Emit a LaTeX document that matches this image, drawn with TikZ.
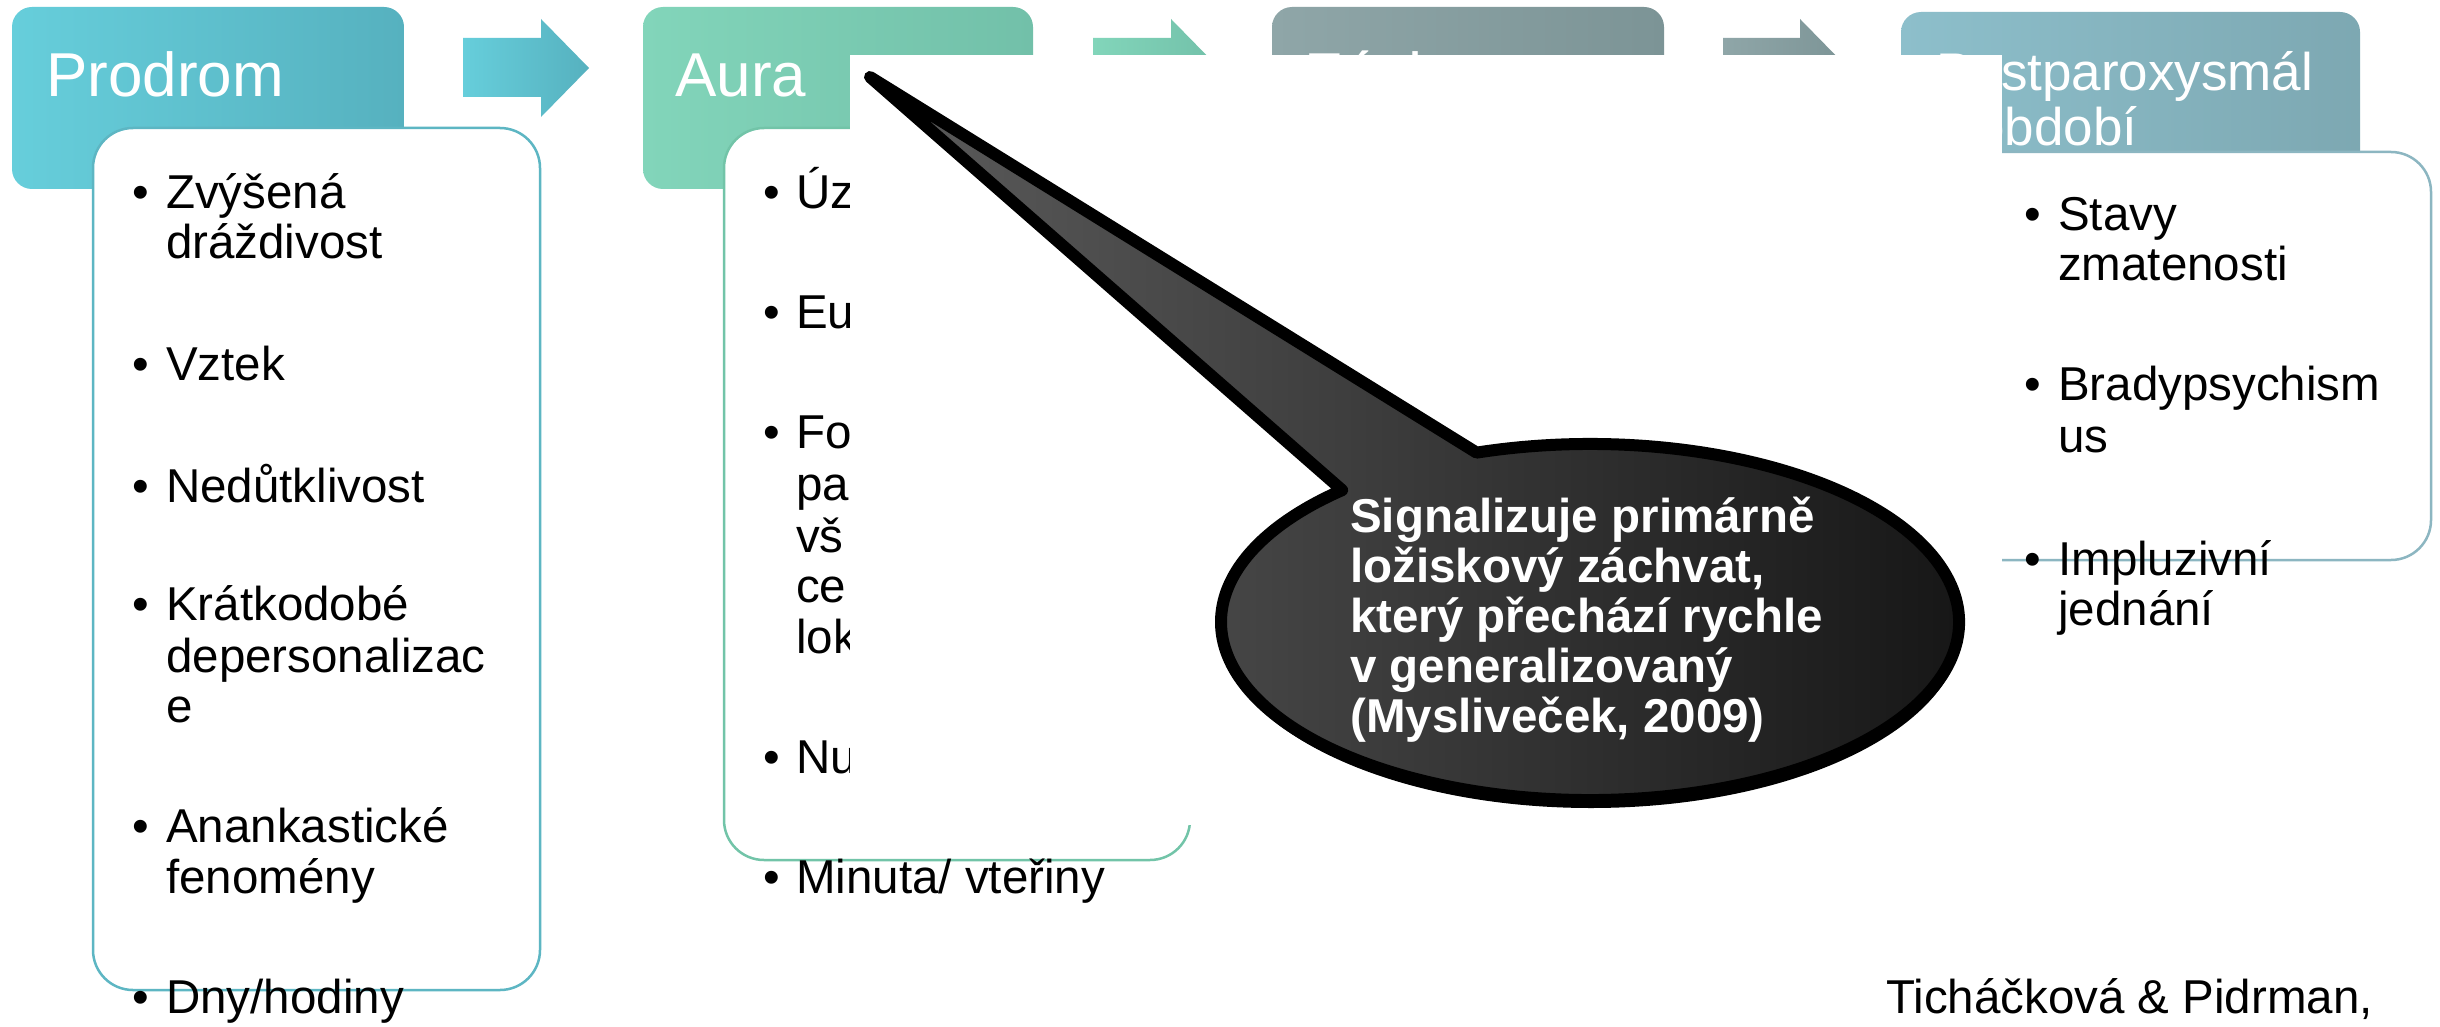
\documentclass[tikz,border=0pt]{standalone}
\usepackage{fontspec}
\setmainfont{Liberation Sans}
\definecolor{prA}{HTML}{66CEDB}
\definecolor{prB}{HTML}{56B1BF}
\definecolor{auA}{HTML}{82D5BA}
\definecolor{auB}{HTML}{72C0A9}
\definecolor{zaA}{HTML}{8FA6A8}
\definecolor{zaB}{HTML}{7C9496}
\definecolor{poA}{HTML}{8DBFCB}
\definecolor{poB}{HTML}{7DA8B2}
\definecolor{prL}{HTML}{5DB6C3}
\definecolor{auL}{HTML}{72C4A8}
\definecolor{poL}{HTML}{8CB6C1}
\definecolor{coA}{HTML}{5C5C5C}
\definecolor{coB}{HTML}{141414}
\begin{document}
\begin{tikzpicture}[x=1pt,y=-1pt,
  hdr/.style={rounded corners=20pt},
  hdrtxt/.style={anchor=base west,inner sep=0pt,text=white,font=\fontsize{62}{66}\selectfont},
  hdrtxts/.style={anchor=base west,inner sep=0pt,text=white,font=\fontsize{53}{56}\selectfont},
  lstbox/.style={fill=white,line width=2.5pt,rounded corners=40pt},
  itm/.style={anchor=base west,inner sep=0pt,font=\fontsize{47.5}{50}\selectfont},
  cotxt/.style={anchor=base west,inner sep=0pt,text=white,font=\bfseries\fontsize{47.5}{50}\selectfont}]
\useasboundingbox (0,0) rectangle (2440,1027);
\fill[white] (0,0) rectangle (2440,1027);

% headers
\shade[hdr,left color=prA,right color=prB] (12,7) rectangle (404,189);
\node[hdrtxt] (hprod) at (46,97) {Prodrom};
\shade[hdr,left color=auA,right color=auB] (643,7) rectangle (1033,189);
\node[hdrtxt] (haura) at (675,97) {Aura};
\shade[hdr,left color=zaA,right color=zaB] (1272,7) rectangle (1664,189);
\node[hdrtxt] (hzach) at (1305,97) {Záchvat};
\shade[hdr,left color=poA,right color=poB] (1901,12) rectangle (2360,194);
\node[hdrtxts] (hpost1) at (1936,91) {Postparoxysmál};
\node[hdrtxts] (hpost2) at (1975,146) {období};

% arrows
\shade[left color=prA,right color=prB] (463,38) -- (541,38) -- (541,19) -- (589,68) -- (541,117) -- (541,97) -- (463,97) -- cycle;
\shade[left color=auA,right color=auB] (1093,38) -- (1171,38) -- (1171,19) -- (1219,68) -- (1171,117) -- (1171,97) -- (1093,97) -- cycle;
\shade[left color=zaA,right color=zaB] (1723,38) -- (1800,38) -- (1800,19) -- (1848,68) -- (1800,117) -- (1800,97) -- (1723,97) -- cycle;

% Prodrom list
\draw[lstbox,draw=prL] (93,128) rectangle (540,990);
\node[itm] (pb1) at (132,208) {•};
\node[itm] (p1a) at (166,208) {Zvýšená};
\node[itm] (p1b) at (166,258) {dráždivost};
\node[itm] (pb2) at (132,380) {•};
\node[itm] (p2) at (166,380) {Vztek};
\node[itm] (pb3) at (132,502) {•};
\node[itm] (p3) at (166,502) {Nedůtklivost};
\node[itm] (pb4) at (132,620) {•};
\node[itm] (p4a) at (166,620) {Krátkodobé};
\node[itm] (p4b) at (166,672) {depersonalizac};
\node[itm] (p4c) at (166,722) {e};
\node[itm] (pb5) at (132,842) {•};
\node[itm] (p5a) at (166,842) {Anankastické};
\node[itm] (p5b) at (166,893) {fenomény};
\node[itm] (pb6) at (132,1013) {•};
\node[itm] (p6) at (166,1013) {Dny/hodiny};

% Aura list
\draw[lstbox,draw=auL] (724,128) rectangle (1190,860);
\node[itm] (ab1) at (763,208) {•};
\node[itm] (a1) at (796,208) {Úz};
\node[itm] (ab2) at (763,328) {•};
\node[itm] (a2) at (796,328) {Eu};
\node[itm] (ab3) at (763,448) {•};
\node[itm] (a3a) at (796,448) {Fo};
\node[itm] (a3b) at (796,500) {pa};
\node[itm] (a3c) at (796,552) {vš};
\node[itm] (a3d) at (796,602) {ce};
\node[itm] (a3e) at (796,653) {lok};
\node[itm] (ab4) at (763,773) {•};
\node[itm] (a4) at (796,773) {Nu};
\node[itm] (ab5) at (763,893) {•};
\node[itm] (a5) at (796,893) {Minuta/ vteřiny};

% Post list
\draw[lstbox,draw=poL] (1960,152) rectangle (2431,560);
\node[itm] (sb1) at (2024,230) {•};
\node[itm] (s1a) at (2058,230) {Stavy};
\node[itm] (s1b) at (2058,280) {zmatenosti};
\node[itm] (sb2) at (2024,400) {•};
\node[itm] (s2a) at (2058,400) {Bradypsychism};
\node[itm] (s2b) at (2058,452) {us};
\node[itm] (sb3) at (2024,575) {•};
\node[itm] (s3a) at (2058,575) {Impluzivní};
\node[itm] (s3b) at (2058,625) {jednání};

% white cover
\fill[white] (850,55) rectangle (2002,825);

% callout
\fill[black] ([shift={(1591,627)}] 0:371pt and 181pt) arc[start angle=0,end angle=360,x radius=371pt,y radius=181pt];
\path[draw=black,line width=12pt,line join=round,left color=coA,right color=coB]
  (870,77) -- ([shift={(1590,622)}] 107.9:369pt and 178pt)
  arc[start angle=107.9,end angle=-227.8,x radius=369pt,y radius=178pt] -- cycle;
\node[cotxt] (c1) at (1350,532) {Signalizuje primárně};
\node[cotxt] (c2) at (1350,582) {ložiskový záchvat,};
\node[cotxt] (c3) at (1350,632) {který přechází rychle};
\node[cotxt] (c4) at (1350,682) {v generalizovaný};
\node[cotxt] (c5) at (1350,732) {(Mysliveček, 2009)};

% footer
\node[itm] (foot) at (1886,1013) {Ticháčková \& Pidrman,};
\end{tikzpicture}
\end{document}
